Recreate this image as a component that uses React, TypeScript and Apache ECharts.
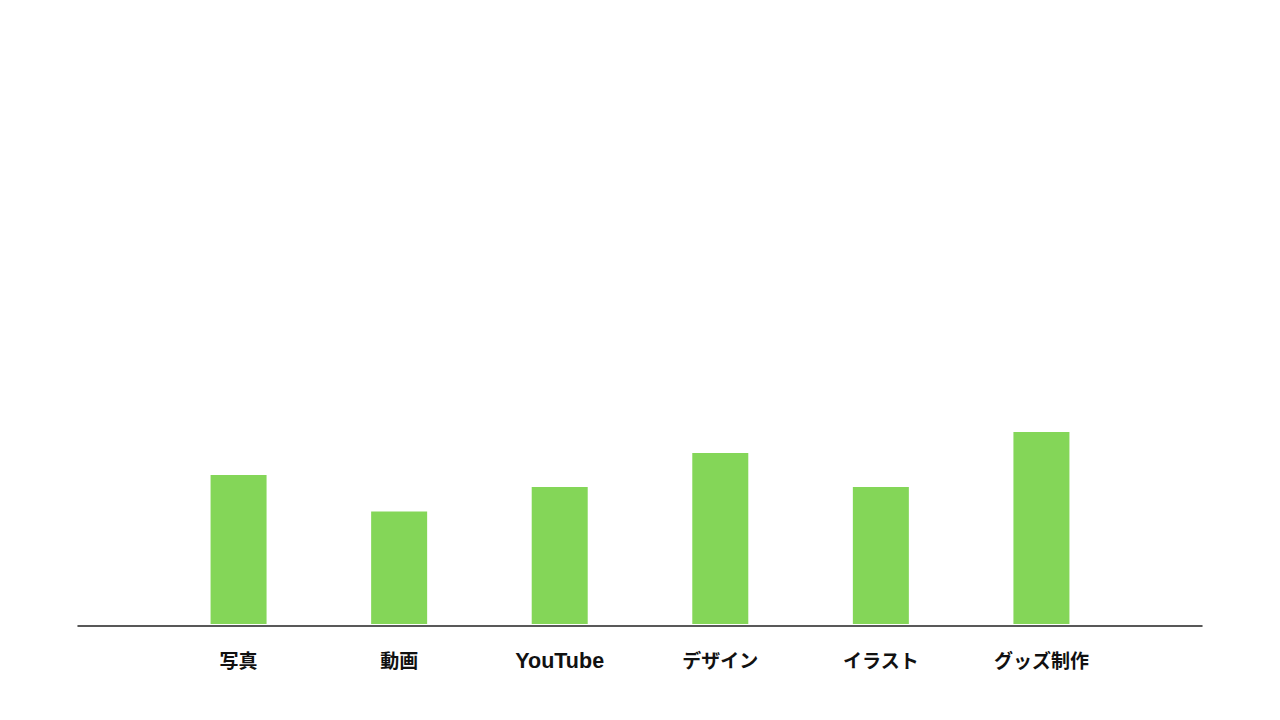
import React, { useEffect, useRef } from 'react'
import * as echarts from 'echarts'

// カテゴリ（前後は余白用の空ラベル）
const categories = ['', '写真', '動画', 'YouTube', 'デザイン', 'イラスト', 'グッズ制作', '']
// 棒の値（画像から読み取った目安）
const values = ['-', 24.9, 18.8, 22.9, 28.6, 22.9, 32.1, '-']

const barColor = '#84d658'

export default function App() {
  const chartRef = useRef<HTMLDivElement>(null)

  useEffect(() => {
    document.body.style.margin = '0'
    if (!chartRef.current) return
    const chart = echarts.init(chartRef.current, null, { renderer: 'svg' })

    const option = {
      animation: false,
      backgroundColor: '#ffffff',
      grid: { left: 78, right: 78, top: 26, bottom: 94 },
      xAxis: {
        type: 'category',
        data: categories,
        boundaryGap: false,
        axisLine: { onZero: false, lineStyle: { color: '#222', width: 1.5 } },
        axisTick: { show: false },
        axisLabel: {
          interval: 0,
          margin: 24,
          color: '#111',
          fontSize: 19,
          fontWeight: 'bold',
          fontFamily: '"Noto Sans CJK JP", "Noto Sans", sans-serif',
          // 英字ラベルだけ欧文フォントで少し大きめに
          formatter: (v: string) => (/^[A-Za-z]+$/.test(v) ? `{latin|${v}}` : v),
          rich: {
            latin: {
              color: '#111',
              fontSize: 21.5,
              fontWeight: 'bold',
              fontFamily: '"Liberation Sans", Arial, sans-serif'
            }
          }
        },
        splitLine: { show: false }
      },
      yAxis: {
        type: 'value',
        min: -0.35,
        max: 100,
        show: false,
        splitLine: { show: false }
      },
      series: [
        {
          type: 'bar',
          data: values,
          barWidth: 56,
          itemStyle: { color: barColor }
        }
      ]
    }

    chart.setOption(option)
    return () => chart.dispose()
  }, [])

  return <div ref={chartRef} style={{ width: '1280px', height: '720px' }} />
}
